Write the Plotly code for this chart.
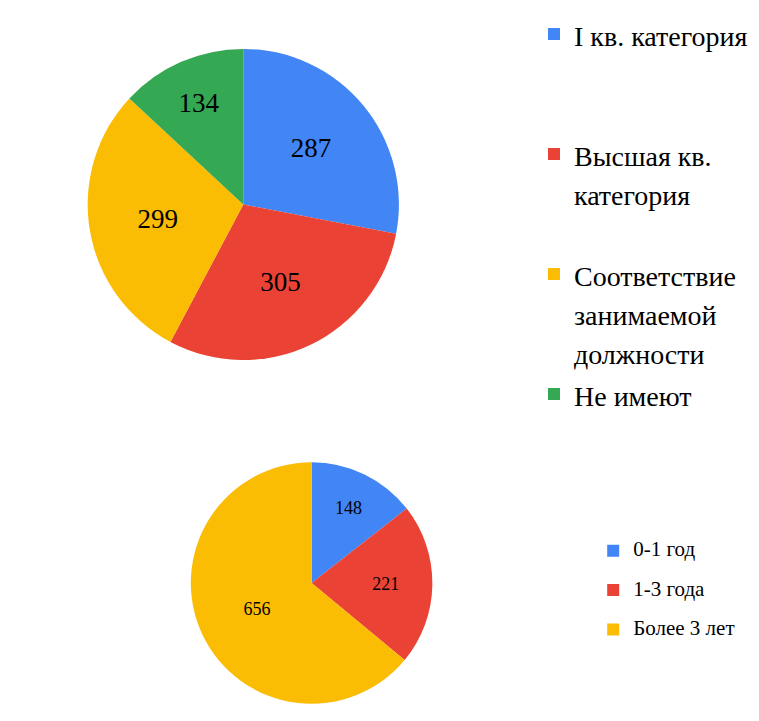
import plotly.graph_objects as go

cat_labels = ["I кв. категория", "Высшая кв.<br>категория", "Соответствие<br>занимаемой<br>должности", "Не имеют"]
cat_values = [287, 305, 299, 134]
cat_colors = ["#4285F4", "#EA4335", "#FBBC04", "#34A853"]

exp_labels = ["0-1 год", "1-3 года", "Более 3 лет"]
exp_values = [148, 221, 656]
exp_colors = ["#4285F4", "#EA4335", "#FBBC04"]

SERIF = "Liberation Serif, Times New Roman, serif"


def sized(text, px):
    return "<br>".join(f"<span style='font-size:{px}px'>{part}</span>" for part in text.split("<br>"))


# pad legend labels so each top entry takes three lines
top_legend_labels = []
for lab in cat_labels:
    n = lab.count("<br>") + 1
    top_legend_labels.append(sized(lab, 28) + "<br> " * (3 - n))

bot_legend_labels = [sized(l, 21) + "<br> " for l in exp_labels]

fig = go.Figure()
fig.add_trace(go.Pie(
    labels=top_legend_labels, values=cat_values, sort=False, direction="clockwise", rotation=0,
    marker=dict(colors=cat_colors, line=dict(width=0)),
    textinfo="value", textposition="inside", insidetextorientation="horizontal",
    textfont=dict(family=SERIF, size=27, color="black"),
    domain=dict(x=[0.105, 0.515], y=[0.51, 0.945]),
    legend="legend", hoverinfo="value",
))
fig.add_trace(go.Pie(
    labels=bot_legend_labels, values=exp_values, sort=False, direction="clockwise", rotation=0,
    marker=dict(colors=exp_colors, line=dict(width=0)),
    textinfo="value", textposition="inside", insidetextorientation="horizontal",
    textfont=dict(family=SERIF, size=18, color="black"),
    domain=dict(x=[0.24, 0.56], y=[0.035, 0.37]),
    legend="legend2", hoverinfo="value",
))
fig.update_layout(
    width=759, height=721,
    margin=dict(l=0, r=0, t=0, b=0),
    paper_bgcolor="white",
    legend=dict(x=0.693, y=1.0, xanchor="left", yanchor="top", valign="top",
                font=dict(family=SERIF, size=30, color="black"), bgcolor="rgba(0,0,0,0)"),
    legend2=dict(x=0.771, y=0.269, xanchor="left", yanchor="top", valign="top",
                 font=dict(family=SERIF, size=14, color="black"), bgcolor="rgba(0,0,0,0)"),
)
fig.write_html("out.html")
